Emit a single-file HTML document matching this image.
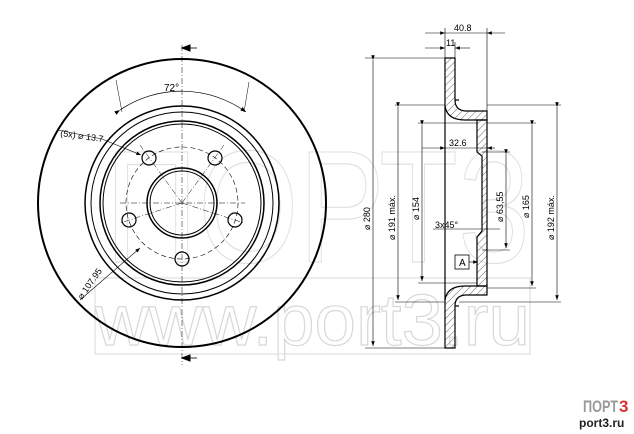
<!DOCTYPE html>
<html><head><style>
html,body{margin:0;padding:0;background:#fff;}
svg{display:block;}
text{font-family:"Liberation Sans",sans-serif;}
</style></head><body>
<svg width="634" height="434" viewBox="0 0 634 434" xmlns="http://www.w3.org/2000/svg">
<defs>
<pattern id="h" width="5" height="5" patternUnits="userSpaceOnUse" patternTransform="rotate(45)">
<line x1="0" y1="0" x2="0" y2="5" stroke="#444" stroke-width="0.8"/></pattern>
<marker id="a" markerWidth="8" markerHeight="6" refX="8" refY="3" orient="auto"><path d="M0,0 L8,3 L0,6z" fill="#000"/></marker>
</defs>
<g fill="none" stroke="#dedede" stroke-width="1.2">
<text x="95" y="345" font-size="72" fill="none" stroke="#d8d8d8" textLength="435" lengthAdjust="spacingAndGlyphs">www.port3.ru</text>
<text x="105" y="262" font-size="160" fill="none" stroke="#e0e0e0" textLength="425" lengthAdjust="spacingAndGlyphs">ПОРТ3</text>
<rect x="95" y="278" width="435" height="76"/>
</g>
<g fill="none" stroke="#000">
<circle cx="182" cy="203" r="144" stroke-width="2"/>
<circle cx="182" cy="203" r="97" stroke-width="1.5"/>
<circle cx="182" cy="203" r="91" stroke-width="1"/>
<circle cx="182" cy="203" r="82" stroke-width="1.5"/>
<circle cx="182" cy="203" r="79" stroke-width="1"/>
<circle cx="182" cy="203" r="35" stroke-width="1.5"/>
<circle cx="182" cy="203" r="32" stroke-width="1"/>
<circle cx="182" cy="203" r="56" stroke-width="0.6" stroke-dasharray="5,3"/>
<circle cx="149" cy="158" r="7" stroke-width="1.2"/>
<circle cx="215" cy="158" r="7" stroke-width="1.2"/>
<circle cx="129" cy="220" r="7" stroke-width="1.2"/>
<circle cx="235" cy="220" r="7" stroke-width="1.2"/>
<circle cx="182" cy="259" r="7" stroke-width="1.2"/>
<g stroke-width="0.5" stroke-dasharray="6,2,1,2">
<line x1="182" y1="45" x2="182" y2="365"/>
<line x1="120" y1="203" x2="245" y2="203"/>
<line x1="182" y1="203" x2="140" y2="145"/>
<line x1="182" y1="203" x2="224" y2="145"/>
<line x1="182" y1="203" x2="120" y2="223"/>
<line x1="182" y1="203" x2="244" y2="223"/>
</g>
<path d="M120,110 A110,110 0 0 1 246,112" stroke-width="0.7" marker-start="url(#a)" marker-end="url(#a)"/>
<line x1="116" y1="80" x2="122" y2="112" stroke-width="0.5"/>
<line x1="249" y1="82" x2="244" y2="112" stroke-width="0.5"/>
<line x1="58" y1="130" x2="102" y2="139" stroke-width="0.6"/>
<line x1="102" y1="139" x2="141" y2="155" stroke-width="0.6" marker-end="url(#a)"/>
<line x1="80" y1="300" x2="140" y2="248" stroke-width="0.6" marker-end="url(#a)"/>
<line x1="182" y1="48" x2="197" y2="48" stroke-width="0.8"/><path d="M182,48 l8,-3 v6z" fill="#000"/>
<line x1="182" y1="358" x2="197" y2="358" stroke-width="0.8"/><path d="M182,358 l8,-3 v6z" fill="#000"/>
</g>
<text x="164" y="91" font-size="10">72°</text>
<text x="60" y="136" font-size="9" transform="rotate(8 60 136)">(5x) ⌀ 13.7</text>
<text x="82" y="300" font-size="9" transform="rotate(-55 82 300)">⌀ 107.95</text>
<g stroke="#000" stroke-width="1.2" fill="url(#h)">
<path d="M445,58 H455 V100 Q455,110 465,111 H487 V120 H465 Q447,120 445,106 Z"/>
<path d="M445,348 H455 V306 Q455,296 465,295 H487 V286 H465 Q447,286 445,300 Z"/>
<path d="M477,120 H487 V286 H477 V237 L482,231 V156 L477,152 Z"/>
<line x1="445" y1="106" x2="445" y2="300" fill="none"/>
<line x1="455" y1="100" x2="459" y2="100"/><line x1="455" y1="306" x2="459" y2="306"/>
</g>
<g stroke="#000" stroke-width="0.6" fill="none">
<line x1="445" y1="28" x2="445" y2="58"/><line x1="487" y1="28" x2="487" y2="111"/>
<line x1="425" y1="33" x2="445" y2="33" marker-end="url(#a)"/><line x1="505" y1="33" x2="487" y2="33" marker-end="url(#a)"/>
<line x1="445" y1="33" x2="487" y2="33"/>
<line x1="455" y1="42" x2="455" y2="58"/>
<line x1="425" y1="48" x2="445" y2="48" marker-end="url(#a)"/><line x1="470" y1="48" x2="455" y2="48" marker-end="url(#a)"/>
<line x1="365" y1="58" x2="445" y2="58"/><line x1="365" y1="348" x2="445" y2="348"/>
<line x1="373" y1="60" x2="373" y2="346" marker-start="url(#a)" marker-end="url(#a)"/>
<line x1="395" y1="105" x2="445" y2="105"/><line x1="395" y1="302" x2="445" y2="302"/>
<line x1="398" y1="107" x2="398" y2="300" marker-start="url(#a)" marker-end="url(#a)"/>
<line x1="418" y1="123" x2="477" y2="123"/><line x1="418" y1="283" x2="477" y2="283"/>
<line x1="422" y1="125" x2="422" y2="281" marker-start="url(#a)" marker-end="url(#a)"/>
<line x1="422" y1="148" x2="445" y2="148" marker-end="url(#a)"/><line x1="495" y1="148" x2="487" y2="148" marker-end="url(#a)"/>
<line x1="445" y1="148" x2="487" y2="148"/>
<line x1="482" y1="152" x2="510" y2="152"/><line x1="482" y1="250" x2="510" y2="250"/>
<line x1="506" y1="154" x2="506" y2="248" marker-start="url(#a)" marker-end="url(#a)"/>
<line x1="487" y1="123" x2="536" y2="123"/><line x1="487" y1="288" x2="536" y2="288"/>
<line x1="532" y1="125" x2="532" y2="286" marker-start="url(#a)" marker-end="url(#a)"/>
<line x1="487" y1="105" x2="561" y2="105"/><line x1="459" y1="302" x2="561" y2="302"/>
<line x1="557" y1="107" x2="557" y2="300" marker-start="url(#a)" marker-end="url(#a)"/>
<line x1="433" y1="229" x2="500" y2="229"/>
<rect x="455" y="255" width="14" height="14" stroke-width="0.8"/>
<line x1="469" y1="262" x2="478" y2="262" marker-end="url(#a)"/>
</g>
<g font-size="9">
<text x="454" y="31">40.8</text>
<text x="446" y="46">11</text>
<text x="449" y="146">32.6</text>
<text x="435" y="228">3x45°</text>
<text x="459" y="266" font-size="10">A</text>
<text transform="translate(370,230) rotate(-90)">⌀ 280</text>
<text transform="translate(395,240) rotate(-90)">⌀ 191 máx.</text>
<text transform="translate(419,220) rotate(-90)">⌀ 154</text>
<text transform="translate(503,222) rotate(-90)">⌀ 63,55</text>
<text transform="translate(529,218) rotate(-90)">⌀ 165</text>
<text transform="translate(554,240) rotate(-90)">⌀ 192 máx.</text>
</g>
<text x="583" y="412" font-size="17" fill="#999" font-weight="bold" textLength="35" lengthAdjust="spacingAndGlyphs">ПОРТ</text>
<text x="619" y="412" font-size="17" fill="#e03030" font-weight="bold">3</text>
<text x="579" y="427" font-size="12" font-weight="bold" fill="#222">port3.ru</text>
</svg>
</body></html>
